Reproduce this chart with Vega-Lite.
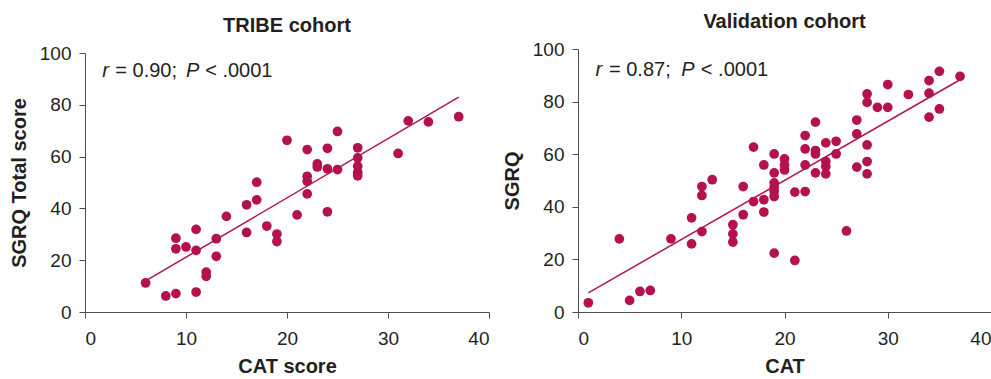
{
  "$schema": "https://vega.github.io/schema/vega-lite/v6.json",
  "padding": {"left": 9, "top": 12, "right": 0, "bottom": 0},
  "spacing": 12,
  "background": "white",
  "datasets": {
    "tribe": [
      {"cat": 6, "sgrq": 11.2}, {"cat": 8, "sgrq": 6.2}, {"cat": 9, "sgrq": 7.1}, {"cat": 9, "sgrq": 28.5},
      {"cat": 9, "sgrq": 24.4}, {"cat": 10, "sgrq": 25.1}, {"cat": 11, "sgrq": 31.9}, {"cat": 11, "sgrq": 23.8},
      {"cat": 11, "sgrq": 7.7}, {"cat": 12, "sgrq": 15.4}, {"cat": 12, "sgrq": 13.8}, {"cat": 13, "sgrq": 28.3},
      {"cat": 13, "sgrq": 21.5}, {"cat": 14, "sgrq": 36.9}, {"cat": 16, "sgrq": 41.4}, {"cat": 16, "sgrq": 30.7},
      {"cat": 17, "sgrq": 50.1}, {"cat": 17, "sgrq": 43.3}, {"cat": 18, "sgrq": 33.2}, {"cat": 19, "sgrq": 30.1},
      {"cat": 19, "sgrq": 27.2}, {"cat": 20, "sgrq": 66.3}, {"cat": 21, "sgrq": 37.5}, {"cat": 22, "sgrq": 62.7},
      {"cat": 22, "sgrq": 52.4}, {"cat": 22, "sgrq": 50.5}, {"cat": 22, "sgrq": 45.6}, {"cat": 23, "sgrq": 57.2},
      {"cat": 23, "sgrq": 56.0}, {"cat": 24, "sgrq": 63.2}, {"cat": 24, "sgrq": 55.3}, {"cat": 24, "sgrq": 38.7},
      {"cat": 25, "sgrq": 69.7}, {"cat": 25, "sgrq": 55.0}, {"cat": 27, "sgrq": 63.4}, {"cat": 27, "sgrq": 59.5},
      {"cat": 27, "sgrq": 56.3}, {"cat": 27, "sgrq": 53.9}, {"cat": 27, "sgrq": 52.6}, {"cat": 31, "sgrq": 61.2},
      {"cat": 32, "sgrq": 73.8}, {"cat": 34, "sgrq": 73.4}, {"cat": 37, "sgrq": 75.4}
    ],
    "validation": [
      {"cat": 1, "sgrq": 3.5}, {"cat": 4, "sgrq": 27.8}, {"cat": 5, "sgrq": 4.4}, {"cat": 6, "sgrq": 7.8},
      {"cat": 7, "sgrq": 8.2}, {"cat": 9, "sgrq": 27.8}, {"cat": 11, "sgrq": 35.8}, {"cat": 11, "sgrq": 25.9},
      {"cat": 12, "sgrq": 47.7}, {"cat": 12, "sgrq": 44.3}, {"cat": 12, "sgrq": 30.6}, {"cat": 13, "sgrq": 50.3},
      {"cat": 15, "sgrq": 33.2}, {"cat": 15, "sgrq": 29.7}, {"cat": 15, "sgrq": 26.6}, {"cat": 16, "sgrq": 47.7},
      {"cat": 16, "sgrq": 37.0}, {"cat": 17, "sgrq": 62.7}, {"cat": 17, "sgrq": 42.0}, {"cat": 18, "sgrq": 55.9},
      {"cat": 18, "sgrq": 42.7}, {"cat": 18, "sgrq": 38.0}, {"cat": 19, "sgrq": 60.1}, {"cat": 19, "sgrq": 52.9},
      {"cat": 19, "sgrq": 49.1}, {"cat": 19, "sgrq": 47.5}, {"cat": 19, "sgrq": 45.8}, {"cat": 19, "sgrq": 43.9},
      {"cat": 19, "sgrq": 22.4}, {"cat": 20, "sgrq": 58.2}, {"cat": 20, "sgrq": 55.9}, {"cat": 20, "sgrq": 54.0},
      {"cat": 21, "sgrq": 45.6}, {"cat": 21, "sgrq": 19.6}, {"cat": 22, "sgrq": 67.1}, {"cat": 22, "sgrq": 62.0},
      {"cat": 22, "sgrq": 55.9}, {"cat": 22, "sgrq": 45.8}, {"cat": 23, "sgrq": 72.2}, {"cat": 23, "sgrq": 61.4},
      {"cat": 23, "sgrq": 60.1}, {"cat": 23, "sgrq": 52.9}, {"cat": 24, "sgrq": 64.3}, {"cat": 24, "sgrq": 57.2},
      {"cat": 24, "sgrq": 55.3}, {"cat": 24, "sgrq": 52.5}, {"cat": 25, "sgrq": 64.9}, {"cat": 25, "sgrq": 60.1},
      {"cat": 26, "sgrq": 30.8}, {"cat": 27, "sgrq": 73.0}, {"cat": 27, "sgrq": 67.7}, {"cat": 27, "sgrq": 55.1},
      {"cat": 28, "sgrq": 82.9}, {"cat": 28, "sgrq": 79.7}, {"cat": 28, "sgrq": 63.5}, {"cat": 28, "sgrq": 57.2},
      {"cat": 28, "sgrq": 52.5}, {"cat": 29, "sgrq": 77.8}, {"cat": 30, "sgrq": 86.5}, {"cat": 30, "sgrq": 77.8},
      {"cat": 32, "sgrq": 82.7}, {"cat": 34, "sgrq": 88.0}, {"cat": 34, "sgrq": 83.2}, {"cat": 34, "sgrq": 74.1},
      {"cat": 35, "sgrq": 91.5}, {"cat": 35, "sgrq": 77.2}, {"cat": 37, "sgrq": 89.6}
    ],
    "tribeLine": [{"cat": 6, "sgrq": 12.0}, {"cat": 37, "sgrq": 83.0}],
    "validationLine": [{"cat": 1, "sgrq": 7.3}, {"cat": 37, "sgrq": 88.3}],
    "tribeNote": [
      {"x": 1.7, "y": 93, "label": "r"}, {"x": 3.0, "y": 93, "label": "= 0.90;"},
      {"x": 10.0, "y": 93, "label": "P"}, {"x": 11.9, "y": 93, "label": "< .0001"}
    ],
    "validationNote": [
      {"x": 1.7, "y": 92, "label": "r"}, {"x": 3.0, "y": 92, "label": "= 0.87;"},
      {"x": 10.0, "y": 92, "label": "P"}, {"x": 11.9, "y": 92, "label": "< .0001"}
    ]
  },
  "hconcat": [
    {
      "title": {"text": "TRIBE cohort", "offset": 8},
      "width": 404,
      "height": 263,
      "layer": [
        {
          "data": {"name": "tribeLine"},
          "mark": {"type": "line", "color": "#b3124e", "strokeWidth": 1.5},
          "encoding": {
            "x": {"field": "cat", "type": "quantitative", "scale": {"domain": [0, 40], "nice": false}, "axis": {"title": "CAT score", "values": [0, 10, 20, 30, 40]}},
            "y": {"field": "sgrq", "type": "quantitative", "scale": {"domain": [0, 100], "nice": false, "range": [263, 4]}, "axis": {"title": "SGRQ Total score", "values": [0, 20, 40, 60, 80, 100]}}
          }
        },
        {
          "data": {"name": "tribe"},
          "mark": {"type": "circle", "color": "#b3124e", "opacity": 1, "size": 95},
          "encoding": {
            "x": {"field": "cat", "type": "quantitative"},
            "y": {"field": "sgrq", "type": "quantitative"}
          }
        },
        {
          "data": {"name": "tribeNote"},
          "transform": [{"filter": "datum.label == 'r' || datum.label == 'P'"}],
          "mark": {"type": "text", "align": "left", "baseline": "middle", "fontSize": 20, "fontStyle": "italic", "font": "Liberation Sans", "color": "#231f20"},
          "encoding": {
            "x": {"field": "x", "type": "quantitative"},
            "y": {"field": "y", "type": "quantitative"},
            "text": {"field": "label"}
          }
        },
        {
          "data": {"name": "tribeNote"},
          "transform": [{"filter": "datum.label != 'r' && datum.label != 'P'"}],
          "mark": {"type": "text", "align": "left", "baseline": "middle", "fontSize": 20, "font": "Liberation Sans", "color": "#231f20"},
          "encoding": {
            "x": {"field": "x", "type": "quantitative"},
            "y": {"field": "y", "type": "quantitative"},
            "text": {"field": "label"}
          }
        }
      ]
    },
    {
      "title": {"text": "Validation cohort", "offset": 8},
      "width": 413,
      "height": 263,
      "layer": [
        {
          "data": {"name": "validationLine"},
          "mark": {"type": "line", "color": "#b3124e", "strokeWidth": 1.5},
          "encoding": {
            "x": {"field": "cat", "type": "quantitative", "scale": {"domain": [0, 40], "nice": false}, "axis": {"title": "CAT", "values": [0, 10, 20, 30, 40]}},
            "y": {"field": "sgrq", "type": "quantitative", "scale": {"domain": [0, 100], "nice": false}, "axis": {"title": "SGRQ", "values": [0, 20, 40, 60, 80, 100]}}
          }
        },
        {
          "data": {"name": "validation"},
          "mark": {"type": "circle", "color": "#b3124e", "opacity": 1, "size": 95},
          "encoding": {
            "x": {"field": "cat", "type": "quantitative"},
            "y": {"field": "sgrq", "type": "quantitative"}
          }
        },
        {
          "data": {"name": "validationNote"},
          "transform": [{"filter": "datum.label == 'r' || datum.label == 'P'"}],
          "mark": {"type": "text", "align": "left", "baseline": "middle", "fontSize": 20, "fontStyle": "italic", "font": "Liberation Sans", "color": "#231f20"},
          "encoding": {
            "x": {"field": "x", "type": "quantitative"},
            "y": {"field": "y", "type": "quantitative"},
            "text": {"field": "label"}
          }
        },
        {
          "data": {"name": "validationNote"},
          "transform": [{"filter": "datum.label != 'r' && datum.label != 'P'"}],
          "mark": {"type": "text", "align": "left", "baseline": "middle", "fontSize": 20, "font": "Liberation Sans", "color": "#231f20"},
          "encoding": {
            "x": {"field": "x", "type": "quantitative"},
            "y": {"field": "y", "type": "quantitative"},
            "text": {"field": "label"}
          }
        }
      ]
    }
  ],
  "config": {
    "view": {"stroke": null},
    "title": {"font": "Liberation Sans", "fontSize": 20, "fontWeight": "bold", "color": "#231f20", "anchor": "middle"},
    "axis": {
      "grid": false,
      "domainColor": "#4d4d4d",
      "tickColor": "#4d4d4d",
      "tickSize": 6,
      "labelFont": "Liberation Sans",
      "labelFontSize": 19,
      "labelColor": "#231f20",
      "titleFont": "Liberation Sans",
      "titleFontSize": 20,
      "titleFontWeight": "bold",
      "titleColor": "#231f20"
    },
    "axisX": {"labelPadding": 11, "titlePadding": 8},
    "axisY": {"labelPadding": 8, "titlePadding": 10}
  }
}
